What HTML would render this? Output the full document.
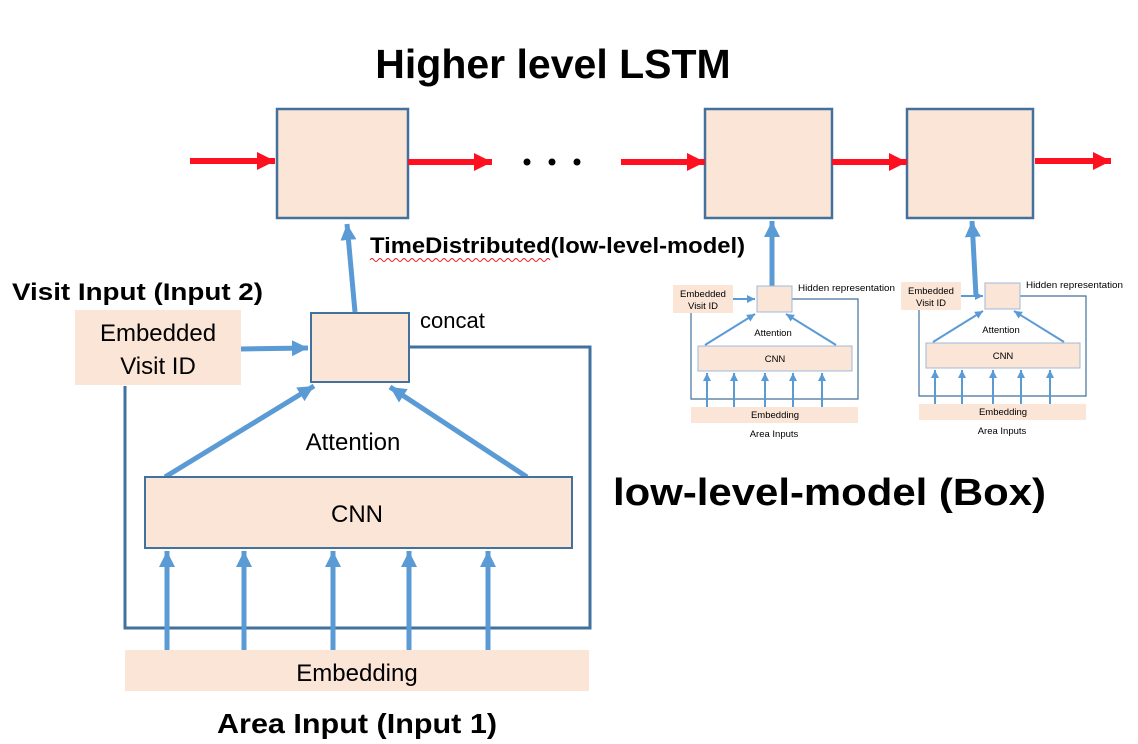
<!DOCTYPE html>
<html><head><meta charset="utf-8"><style>
html,body{margin:0;padding:0;background:#fff;}
svg{display:block;}
text{font-family:"Liberation Sans","Noto Sans CJK KR",sans-serif;}
</style></head><body>
<svg width="1138" height="744" viewBox="0 0 1138 744" xmlns="http://www.w3.org/2000/svg">
<defs>
<marker id="ar" markerUnits="userSpaceOnUse" markerWidth="20" markerHeight="20" refX="18" refY="9" orient="auto"><path d="M0,0 L18,9 L0,18 Z" fill="#ff1020"/></marker>
<marker id="ab" markerUnits="userSpaceOnUse" markerWidth="20" markerHeight="20" refX="16" refY="8" orient="auto"><path d="M0,0 L16,8 L0,16 Z" fill="#5b9bd5"/></marker>
<marker id="abs" markerUnits="userSpaceOnUse" markerWidth="10" markerHeight="10" refX="8" refY="4" orient="auto"><path d="M0,0 L8,4 L0,8 Z" fill="#5b9bd5"/></marker>
</defs>
<text x="553" y="78" font-size="41" font-weight="bold" text-anchor="middle">Higher level LSTM</text>
<g fill="#fae5d7" stroke="#41719c" stroke-width="2.5">
<rect x="277" y="109" width="131" height="109"/>
<rect x="705" y="109" width="127" height="109"/>
<rect x="907" y="109" width="126" height="109"/>
</g>
<g stroke="#ff1020" stroke-width="6" marker-end="url(#ar)">
<line x1="190" y1="161" x2="275" y2="161"/>
<line x1="408" y1="162" x2="492" y2="162"/>
<line x1="621" y1="162" x2="705" y2="162"/>
<line x1="832" y1="162" x2="907" y2="162"/>
<line x1="1035" y1="161" x2="1111" y2="161"/>
</g>
<circle cx="527" cy="162" r="3.5"/><circle cx="552" cy="162" r="3.5"/><circle cx="577" cy="162" r="3.5"/>
<text x="370" y="253" font-size="22" font-weight="bold" textLength="375" lengthAdjust="spacingAndGlyphs">TimeDistributed(low-level-model)</text>
<path d="M370,260 q2,-3 4,0 t4,0 t4,0 t4,0 t4,0 t4,0 t4,0 t4,0 t4,0 t4,0 t4,0 t4,0 t4,0 t4,0 t4,0 t4,0 t4,0 t4,0 t4,0 t4,0 t4,0 t4,0 t4,0 t4,0 t4,0 t4,0 t4,0 t4,0 t4,0 t4,0 t4,0 t4,0 t4,0 t4,0 t4,0 t4,0 t4,0 t4,0 t4,0 t4,0 t4,0 t4,0 t4,0 t4,0 t4,0" fill="none" stroke="#e02020" stroke-width="1"/>
<text x="12" y="300" font-size="24" font-weight="bold" textLength="251" lengthAdjust="spacingAndGlyphs">Visit Input (Input 2)</text>
<path d="M125,386 V628 H590 V347 H409" fill="none" stroke="#41719c" stroke-width="3"/>
<rect x="75" y="310" width="166" height="75" fill="#fae5d7"/>
<text x="158" y="341" font-size="24" text-anchor="middle">Embedded</text>
<text x="158" y="374" font-size="24" text-anchor="middle">Visit ID</text>
<rect x="311" y="313" width="98" height="69" fill="#fae5d7" stroke="#41719c" stroke-width="2"/>
<text x="420" y="328" font-size="22">concat</text>
<g stroke="#5b9bd5" stroke-width="5" marker-end="url(#ab)">
<line x1="241" y1="349" x2="308" y2="348"/>
<line x1="355" y1="312" x2="347" y2="224"/>
<line x1="165" y1="477" x2="314" y2="386"/>
<line x1="527" y1="477" x2="390" y2="387"/>
<line x1="772" y1="290" x2="772" y2="221"/>
<line x1="976" y1="296" x2="972" y2="221"/>
</g>
<text x="353" y="450" font-size="24" text-anchor="middle">Attention</text>
<rect x="145" y="477" width="427" height="71" fill="#fae5d7" stroke="#41719c" stroke-width="2"/>
<text x="357" y="522" font-size="24" text-anchor="middle">CNN</text>
<g stroke="#5b9bd5" stroke-width="5" marker-end="url(#ab)">
<line x1="167" y1="650" x2="167" y2="551"/>
<line x1="244" y1="650" x2="244" y2="551"/>
<line x1="333" y1="650" x2="333" y2="551"/>
<line x1="409" y1="650" x2="409" y2="551"/>
<line x1="488" y1="650" x2="488" y2="551"/>
</g>
<rect x="125" y="650" width="464" height="41" fill="#fae5d7"/>
<text x="357" y="681" font-size="24" text-anchor="middle">Embedding</text>
<text x="357" y="733" font-size="28" font-weight="bold" text-anchor="middle" textLength="280" lengthAdjust="spacingAndGlyphs">Area Input (Input 1)</text>
<text x="613" y="505" font-size="38" font-weight="bold" textLength="433" lengthAdjust="spacingAndGlyphs">low-level-model (Box)</text>
<g id="small">
<path d="M691,313 V399 H858 V299 H792" fill="none" stroke="#41719c" stroke-width="1.2"/>
<rect x="673" y="285" width="60" height="28" fill="#fae5d7"/>
<text x="703" y="297" font-size="9.5" text-anchor="middle">Embedded</text>
<text x="703" y="309" font-size="9.5" text-anchor="middle">Visit ID</text>
<rect x="757" y="286" width="35" height="26" fill="#fae5d7" stroke="#9db8d8" stroke-width="1"/>
<text x="798" y="291" font-size="9.5" textLength="97" lengthAdjust="spacingAndGlyphs">Hidden representation</text>
<text x="773" y="336" font-size="9.5" text-anchor="middle">Attention</text>
<rect x="698" y="346" width="154" height="25" fill="#fae5d7" stroke="#9db8d8" stroke-width="1"/>
<text x="775" y="362" font-size="9.5" text-anchor="middle">CNN</text>
<rect x="691" y="407" width="167" height="16" fill="#fae5d7"/>
<text x="775" y="418" font-size="9.5" text-anchor="middle">Embedding</text>
<text x="774" y="437" font-size="9.5" text-anchor="middle">Area Inputs</text>
<g stroke="#5b9bd5" stroke-width="2" marker-end="url(#abs)">
<line x1="733" y1="299" x2="755" y2="299"/>
<line x1="705" y1="345" x2="755" y2="314"/>
<line x1="836" y1="345" x2="786" y2="314"/>
<line x1="707" y1="407" x2="707" y2="373"/>
<line x1="734" y1="407" x2="734" y2="373"/>
<line x1="765" y1="407" x2="765" y2="373"/>
<line x1="793" y1="407" x2="793" y2="373"/>
<line x1="822" y1="407" x2="822" y2="373"/>
</g>
</g>
<use href="#small" transform="translate(228,-3)"/>
</svg>
</body></html>
